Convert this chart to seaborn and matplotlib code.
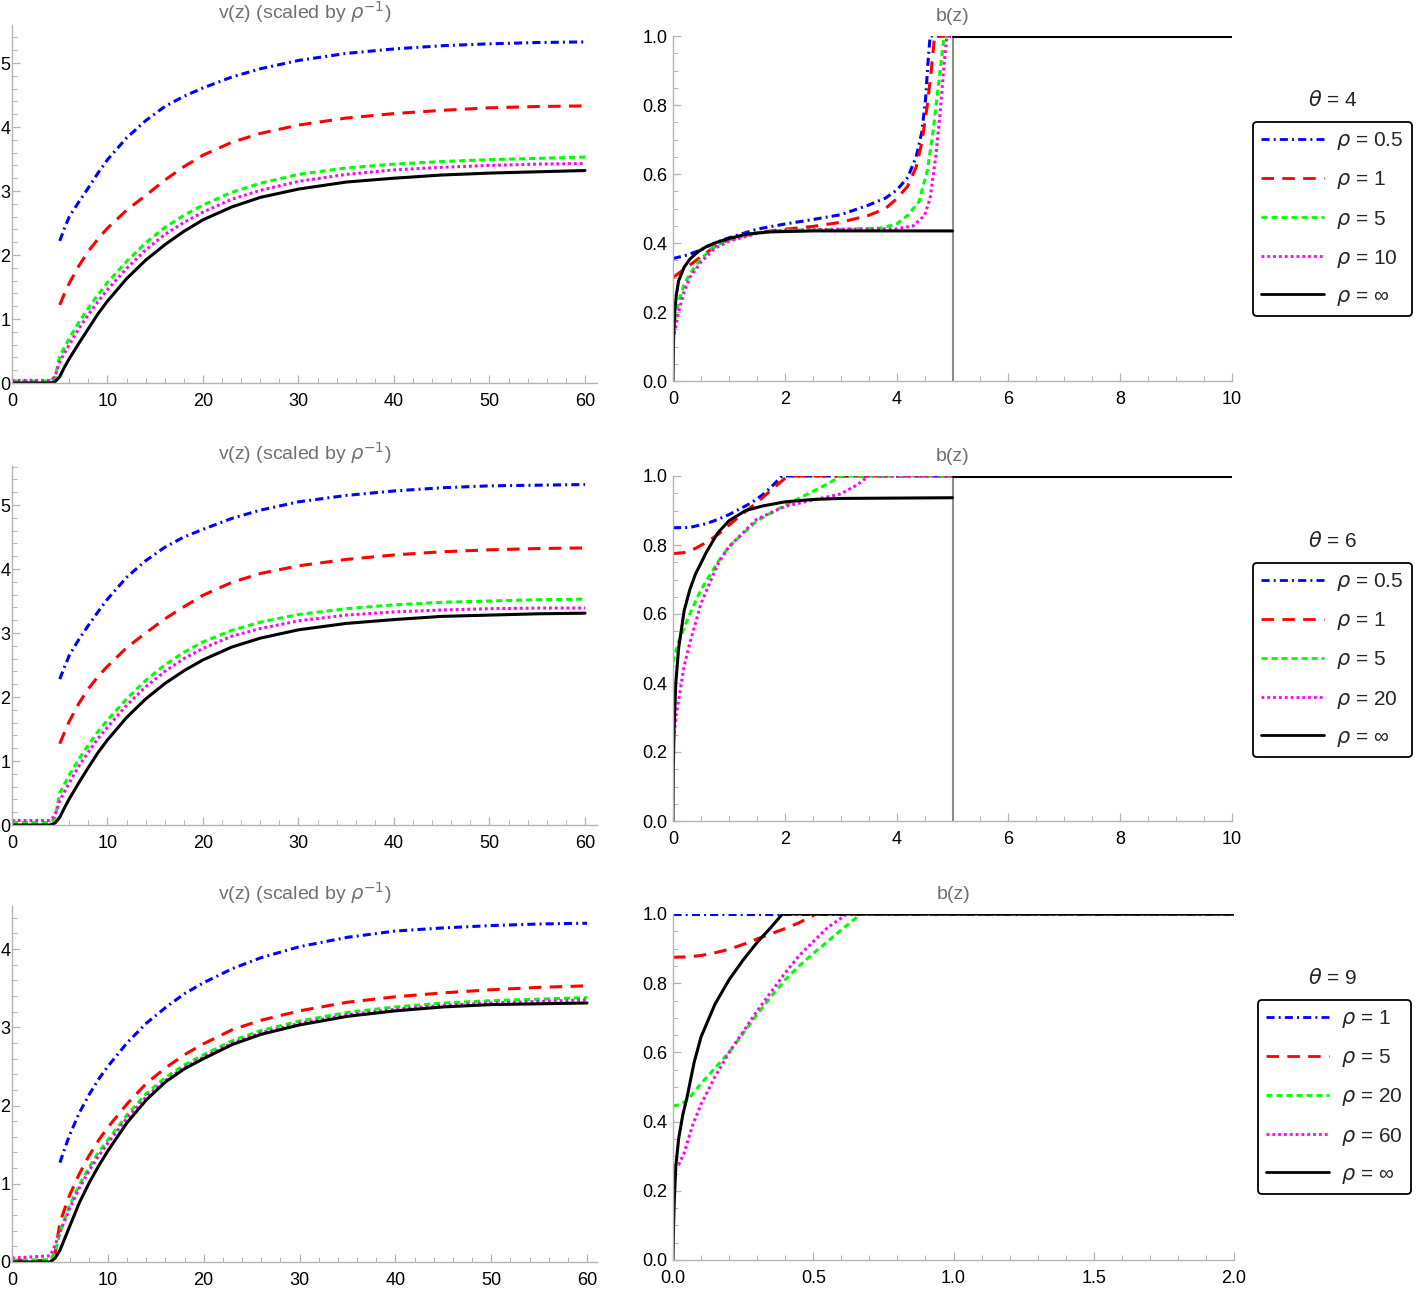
import matplotlib
matplotlib.use("Agg")
import pandas as pd
import matplotlib.pyplot as plt
from matplotlib.ticker import MultipleLocator, FormatStrFormatter
import seaborn as sns

# ---------------- data: v(z) panels (left column) ----------------
z_v = [0, 4, 4.5, 5, 5.5, 6, 7, 8, 9, 10, 12, 14, 16, 18, 20, 23, 26, 30,
       35, 40, 45, 50, 55, 60]
z_v_late = z_v[3:]   # curves that only start at z = 5

v4_blue = [2.22, 2.42, 2.6, 2.83, 3.05, 3.28, 3.49, 3.83, 4.1, 4.32, 4.48,
           4.61, 4.78, 4.91, 5.04, 5.15, 5.22, 5.27, 5.3, 5.32, 5.33]
v4_red = [1.22, 1.4, 1.56, 1.83, 2.06, 2.25, 2.42, 2.7, 2.93, 3.17, 3.38,
          3.56, 3.76, 3.9, 4.03, 4.14, 4.21, 4.26, 4.3, 4.32, 4.33]
v4_green = [0.03, 0.03, 0.08, 0.42, 0.56, 0.7, 0.95, 1.17, 1.38, 1.57, 1.9,
            2.19, 2.43, 2.62, 2.78, 2.98, 3.12, 3.26, 3.36, 3.42, 3.46, 3.49,
            3.51, 3.53]
v4_magenta = [0.04, 0.04, 0.1, 0.33, 0.47, 0.6, 0.85, 1.07, 1.27, 1.46, 1.79,
              2.08, 2.32, 2.51, 2.67, 2.87, 3.01, 3.15, 3.26, 3.33, 3.37, 3.4,
              3.42, 3.43]
v4_black = [0, 0, 0.02, 0.1, 0.25, 0.38, 0.62, 0.85, 1.08, 1.28, 1.63, 1.92,
            2.16, 2.37, 2.55, 2.75, 2.9, 3.03, 3.14, 3.2, 3.25, 3.28, 3.3, 3.32]

v6_blue = [2.28, 2.47, 2.65, 2.9, 3.12, 3.33, 3.53, 3.87, 4.13, 4.34, 4.5,
           4.62, 4.79, 4.92, 5.05, 5.15, 5.22, 5.27, 5.3, 5.31, 5.32]
v6_red = [1.27, 1.45, 1.62, 1.9, 2.13, 2.32, 2.48, 2.77, 3.0, 3.22, 3.41,
          3.59, 3.79, 3.93, 4.05, 4.15, 4.22, 4.27, 4.3, 4.32, 4.33]
v6_green = [0.04, 0.04, 0.1, 0.5, 0.64, 0.78, 1.03, 1.25, 1.46, 1.64, 1.97,
            2.26, 2.5, 2.7, 2.86, 3.04, 3.17, 3.29, 3.38, 3.44, 3.48, 3.5,
            3.52, 3.53]
v6_magenta = [0.07, 0.07, 0.15, 0.38, 0.52, 0.66, 0.92, 1.14, 1.35, 1.53,
              1.87, 2.16, 2.4, 2.6, 2.76, 2.95, 3.07, 3.19, 3.28, 3.33, 3.36,
              3.38, 3.39, 3.39]
v6_black = [0, 0, 0.03, 0.12, 0.27, 0.41, 0.66, 0.9, 1.13, 1.33, 1.68, 1.97,
            2.21, 2.41, 2.58, 2.78, 2.92, 3.05, 3.15, 3.21, 3.26, 3.28, 3.3,
            3.31]

v9_blue = [1.27, 1.45, 1.62, 1.9, 2.13, 2.33, 2.5, 2.8, 3.05, 3.25, 3.43,
           3.57, 3.75, 3.89, 4.03, 4.15, 4.23, 4.27, 4.3, 4.32, 4.33]
v9_red = [0.02, 0.02, 0.12, 0.5, 0.68, 0.85, 1.12, 1.35, 1.55, 1.72, 2.02,
          2.28, 2.48, 2.65, 2.79, 2.97, 3.09, 3.21, 3.32, 3.39, 3.44, 3.48,
          3.51, 3.53]
v9_green = [0.02, 0.03, 0.12, 0.38, 0.55, 0.72, 0.98, 1.2, 1.4, 1.56, 1.88,
            2.15, 2.36, 2.52, 2.65, 2.83, 2.96, 3.08, 3.19, 3.26, 3.31, 3.34,
            3.36, 3.38]
v9_magenta = [0.05, 0.08, 0.22, 0.38, 0.53, 0.68, 0.94, 1.16, 1.35, 1.52,
              1.84, 2.11, 2.32, 2.49, 2.62, 2.8, 2.93, 3.05, 3.16, 3.23, 3.28,
              3.31, 3.33, 3.35]
v9_black = [0, 0, 0.05, 0.15, 0.3, 0.45, 0.75, 1.0, 1.22, 1.42, 1.78, 2.07,
            2.3, 2.47, 2.6, 2.78, 2.91, 3.03, 3.14, 3.21, 3.26, 3.29, 3.3, 3.31]

# ---------------- data: b(z) panels (right column) ----------------
zb4_blue = [0, 0.25, 0.5, 0.75, 1.0, 1.5, 2.0, 2.5, 3.0, 3.5, 3.8, 4.0, 4.2,
            4.35, 4.45, 4.52, 4.56, 4.6, 5.0]
b4_blue = [0.355, 0.365, 0.38, 0.4, 0.415, 0.44, 0.455, 0.468, 0.482, 0.51,
           0.53, 0.553, 0.59, 0.65, 0.72, 0.82, 0.92, 1.0, 1.0]
zb4_red = [0, 0.25, 0.5, 0.75, 1.0, 1.5, 2.0, 2.5, 3.0, 3.5, 3.8, 4.0, 4.2,
           4.35, 4.45, 4.55, 4.62, 4.68, 5.0]
b4_red = [0.30, 0.33, 0.36, 0.39, 0.41, 0.43, 0.44, 0.448, 0.46, 0.48, 0.5,
          0.528, 0.565, 0.62, 0.69, 0.8, 0.9, 1.0, 1.0]
zb4_green = [0, 0.05, 0.1, 0.2, 0.3, 0.5, 0.75, 1.0, 1.5, 2.0, 3.0, 3.7, 4.0,
             4.2, 4.4, 4.55, 4.65, 4.75, 4.85, 5.0]
b4_green = [0.15, 0.19, 0.23, 0.28, 0.31, 0.355, 0.39, 0.41, 0.43, 0.437,
            0.44, 0.443, 0.455, 0.48, 0.52, 0.61, 0.72, 0.86, 1.0, 1.0]
zb4_magenta = [0, 0.05, 0.1, 0.2, 0.3, 0.5, 0.75, 1.0, 1.5, 2.0, 3.0, 4.0,
               4.3, 4.5, 4.6, 4.7, 4.78, 4.85, 4.9, 5.0]
b4_magenta = [0.12, 0.16, 0.2, 0.26, 0.3, 0.345, 0.385, 0.405, 0.428, 0.437,
              0.44, 0.441, 0.45, 0.48, 0.53, 0.65, 0.78, 0.92, 1.0, 1.0]
zb4_black = [0, 0.01, 0.03, 0.06, 0.1, 0.2, 0.3, 0.45, 0.6, 0.8, 1.0, 1.3,
             1.7, 2.5, 5.0]
b4_black = [0, 0.12, 0.2, 0.25, 0.29, 0.33, 0.353, 0.375, 0.39, 0.403, 0.413,
            0.425, 0.432, 0.435, 0.435]

zb6_blue = [0, 0.3, 0.6, 0.8, 1.0, 1.2, 1.4, 1.6, 1.8, 1.95, 5.0]
b6_blue = [0.85, 0.851, 0.862, 0.874, 0.888, 0.905, 0.922, 0.945, 0.975, 1.0,
           1.0]
zb6_red = [0, 0.2, 0.4, 0.6, 0.8, 1.0, 1.2, 1.4, 1.6, 1.8, 2.05, 5.0]
b6_red = [0.775, 0.778, 0.79, 0.808, 0.83, 0.857, 0.885, 0.91, 0.937, 0.965,
          1.0, 1.0]
zb6_green = [0, 0.1, 0.3, 0.5, 0.8, 1.0, 1.5, 2.0, 2.5, 2.8, 3.0, 5.0]
b6_green = [0.46, 0.52, 0.6, 0.67, 0.75, 0.795, 0.87, 0.915, 0.955, 0.98, 1.0,
            1.0]
zb6_magenta = [0, 0.05, 0.1, 0.2, 0.3, 0.5, 0.8, 1.0, 1.5, 2.0, 2.5, 3.0, 3.3,
               3.5, 5.0]
b6_magenta = [0.22, 0.3, 0.35, 0.45, 0.515, 0.63, 0.745, 0.795, 0.875, 0.912,
              0.93, 0.948, 0.975, 1.0, 1.0]
zb6_black = [0, 0.005, 0.02, 0.05, 0.1, 0.2, 0.3, 0.4, 0.6, 0.8, 1.0, 1.3,
             1.6, 2.0, 2.5, 3.0, 5.0]
b6_black = [0, 0.15, 0.27, 0.4, 0.5, 0.61, 0.67, 0.715, 0.78, 0.835, 0.87,
            0.9, 0.913, 0.925, 0.932, 0.935, 0.937]

zb9_blue = [0, 2.0]
b9_blue = [1.0, 1.0]
zb9_red = [0, 0.05, 0.1, 0.15, 0.2, 0.25, 0.3, 0.35, 0.4, 0.45, 0.51, 2.0]
b9_red = [0.875, 0.876, 0.88, 0.888, 0.898, 0.912, 0.928, 0.943, 0.958, 0.975,
          1.0, 1.0]
zb9_green = [0, 0.03, 0.06, 0.1, 0.15, 0.2, 0.25, 0.3, 0.35, 0.4, 0.45, 0.5,
             0.55, 0.6, 0.67, 2.0]
b9_green = [0.445, 0.45, 0.47, 0.51, 0.555, 0.6, 0.655, 0.71, 0.762, 0.81,
            0.85, 0.886, 0.92, 0.954, 1.0, 1.0]
zb9_magenta = [0, 0.02, 0.04, 0.07, 0.1, 0.15, 0.2, 0.25, 0.3, 0.35, 0.4,
               0.45, 0.5, 0.55, 0.62, 2.0]
b9_magenta = [0.27, 0.275, 0.31, 0.39, 0.45, 0.53, 0.6, 0.66, 0.72, 0.775,
              0.83, 0.88, 0.92, 0.96, 1.0, 1.0]
zb9_black = [0, 0.002, 0.005, 0.01, 0.02, 0.035, 0.05, 0.075, 0.1, 0.15, 0.2,
             0.25, 0.3, 0.35, 0.39, 2.0]
b9_black = [0, 0.1, 0.18, 0.27, 0.35, 0.42, 0.47, 0.57, 0.645, 0.74, 0.81,
            0.867, 0.918, 0.962, 1.0, 1.0]

# jump at the cut-off z = 5 in the first two b(z) panels
z_jump = [5, 5]
b_jump = [0, 1]
z_top = [5, 10]
b_top = [1, 1]

thetas = ["4", "6", "9"]
rho_labels = [["0.5", "1", "5", "10", "\u221e"],
              ["0.5", "1", "5", "20", "\u221e"],
              ["1", "5", "20", "60", "\u221e"]]

# ---------------- styling ----------------
sns.set_theme(style="ticks")
plt.rcParams["font.family"] = ["Liberation Sans", "DejaVu Sans"]
plt.rcParams["lines.scale_dashes"] = False
plt.rcParams["lines.dash_capstyle"] = "butt"

LW = 2.2
line_styles = [
    dict(color=(0, 0, 1), linestyle=(0, (5.8, 3.0, 1.4, 3.0))),
    dict(color=(1, 0, 0), linestyle=(0, (9.0, 6.0))),
    dict(color=(0, 1, 0), linestyle=(0, (4.3, 2.9))),
    dict(color=(1, 0, 1), linestyle=(0, (2.0, 2.2))),
    dict(color="black", linestyle="-"),
]

W, H = 1420, 1292
fig = plt.figure(figsize=(W / 100, H / 100), dpi=100)


def px_axes(x0, x1, y_top, y_bot):
    return fig.add_axes([x0 / W, 1 - y_bot / H, (x1 - x0) / W,
                         (y_bot - y_top) / H])


def draw_curve(ax, x, y, idx, label=None, **extra):
    df = pd.DataFrame({"z": x, "val": y})
    kw = dict(line_styles[idx])
    kw.update(extra)
    sns.lineplot(data=df, x="z", y="val", ax=ax, estimator=None, sort=False,
                 legend=False, lw=LW, label=label, **kw)


def style_axes(ax, xmaj, xmin, ymaj, ymin, xfmt, yfmt, ypad=4):
    sns.despine(ax=ax)
    for side in ["left", "bottom"]:
        ax.spines[side].set_color("#b4b4b4")
        ax.spines[side].set_linewidth(1.0)
    ax.xaxis.set_major_locator(MultipleLocator(xmaj))
    ax.xaxis.set_minor_locator(MultipleLocator(xmin))
    ax.yaxis.set_major_locator(MultipleLocator(ymaj))
    ax.yaxis.set_minor_locator(MultipleLocator(ymin))
    ax.xaxis.set_major_formatter(FormatStrFormatter(xfmt))
    ax.yaxis.set_major_formatter(FormatStrFormatter(yfmt))
    ax.tick_params(which="both", direction="in", color="#b4b4b4",
                   labelcolor="black", labelsize=13)
    ax.tick_params(axis="x", which="both", pad=7)
    ax.tick_params(axis="y", which="both", pad=ypad)
    ax.tick_params(which="major", length=6, width=0.9)
    ax.tick_params(which="minor", length=3.5, width=0.7)
    ax.set_xlabel("")
    ax.set_ylabel("")
    ax.patch.set_alpha(0)


left_boxes = [(12, 597, 25, 383), (12, 597, 466, 825), (12, 597, 906, 1262)]
left_xlim = [61.26, 61.26, 61.04]
left_ylim = [5.594, 5.61, 4.55]
right_boxes = [(673, 1232, 36, 381), (673, 1232, 476, 821),
               (673, 1234, 914, 1260)]
legend_tops = [122, 563, 1000]
legend_lefts = [1253, 1253, 1258]
theta_y = [100, 541, 978]

v_panels = [
    [(z_v_late, v4_blue), (z_v_late, v4_red), (z_v, v4_green),
     (z_v, v4_magenta), (z_v, v4_black)],
    [(z_v_late, v6_blue), (z_v_late, v6_red), (z_v, v6_green),
     (z_v, v6_magenta), (z_v, v6_black)],
    [(z_v_late, v9_blue), (z_v, v9_red), (z_v, v9_green),
     (z_v, v9_magenta), (z_v, v9_black)],
]
b_panels = [
    [(zb4_blue, b4_blue), (zb4_red, b4_red), (zb4_green, b4_green),
     (zb4_magenta, b4_magenta), (zb4_black, b4_black)],
    [(zb6_blue, b6_blue), (zb6_red, b6_red), (zb6_green, b6_green),
     (zb6_magenta, b6_magenta), (zb6_black, b6_black)],
    [(zb9_blue, b9_blue), (zb9_red, b9_red), (zb9_green, b9_green),
     (zb9_magenta, b9_magenta), (zb9_black, b9_black)],
]

for row in range(3):
    # v(z)
    ax = px_axes(*left_boxes[row])
    for i, (x, y) in enumerate(v_panels[row]):
        draw_curve(ax, x, y, i)
    ax.set_xlim(0, left_xlim[row])
    ax.set_ylim(0, left_ylim[row])
    style_axes(ax, 10, 2, 1, 0.2, "%d", "%d", ypad=1)
    ax.set_title(r"v(z) (scaled by $\rho^{-1}$)", color="#707070",
                 fontsize=14, pad=1)

    # b(z)
    ax = px_axes(*right_boxes[row])
    if row < 2:
        draw_curve(ax, z_jump, b_jump, 4, color="#8c8c8c", linestyle="-")
        ax.lines[-1].set_linewidth(1.5)
    handles = []
    for i, (x, y) in enumerate(b_panels[row]):
        draw_curve(ax, x, y, i,
                   label=r"$\rho$ = " + rho_labels[row][i])
        handles.append(ax.lines[-1])
    if row < 2:
        draw_curve(ax, z_top, b_top, 4)
        ax.set_xlim(0, 10)
        style_axes(ax, 2, 0.5, 0.2, 0.05, "%d", "%.1f")
    else:
        ax.set_xlim(0, 2)
        style_axes(ax, 0.5, 0.1, 0.2, 0.05, "%.1f", "%.1f")
    ax.set_ylim(0, 1.0)
    ax.set_title("b(z)", color="#707070", fontsize=14, pad=11)

    leg = ax.legend(handles=handles,
                    labels=[h.get_label() for h in handles],
                    loc="upper left",
                    bbox_to_anchor=(legend_lefts[row] / W,
                                    1 - legend_tops[row] / H),
                    bbox_transform=fig.transFigure, borderaxespad=0,
                    fontsize=15, handlelength=3.0, handletextpad=0.6,
                    labelspacing=0.82, borderpad=0.4, fancybox=True,
                    framealpha=1, edgecolor="black")
    leg.get_frame().set_linewidth(1.3)
    for ln in leg.get_lines():
        ln.set_linewidth(2.0)
    fig.text(1333 / W, 1 - theta_y[row] / H,
             r"$\theta$ = " + thetas[row], ha="center", va="center",
             fontsize=15)

fig.savefig("out.png", dpi=100)
